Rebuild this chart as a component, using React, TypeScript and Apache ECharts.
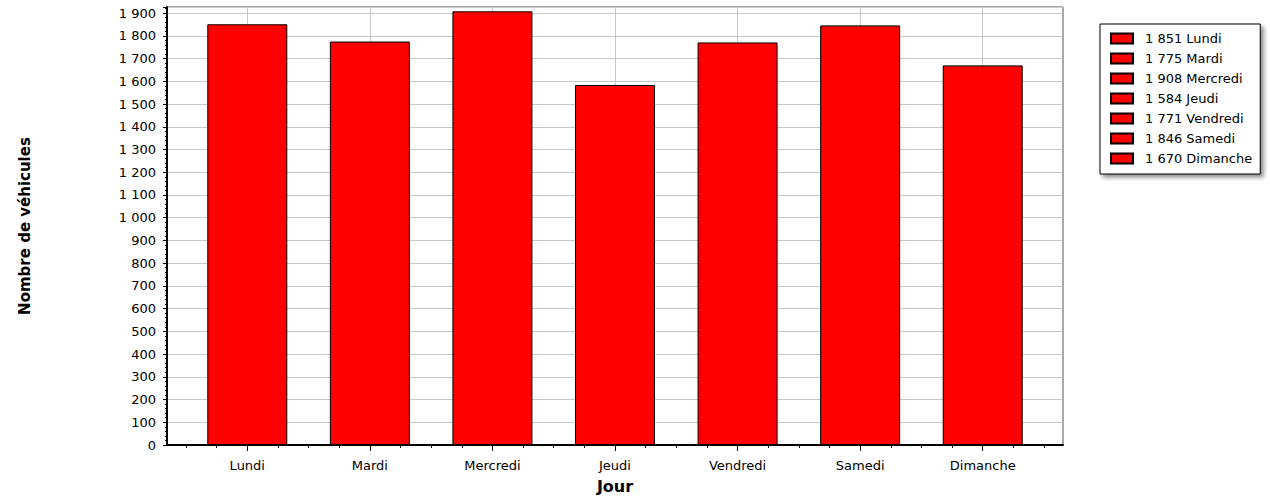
import React, { useEffect, useRef } from "react";
import * as echarts from "echarts";

const categories = ["Lundi", "Mardi", "Mercredi", "Jeudi", "Vendredi", "Samedi", "Dimanche"];
const values = [1851, 1775, 1908, 1584, 1771, 1846, 1670];
const yMax = 1927;
const yInterval = 100;

const fmt = (v: number) => {
  if (v >= 1000) return `${Math.floor(v / 1000)} ${String(v % 1000).padStart(3, "0")}`;
  return String(v);
};

export default function App() {
  const ref = useRef<HTMLDivElement>(null);
  useEffect(() => {
    document.body.style.margin = "0";
    const chart = echarts.init(ref.current!, null, { renderer: "svg" });
    const font = "DejaVu Sans, Verdana, sans-serif";
    const series = categories.map((c, i) => ({
      name: c,
      type: "bar",
      stack: "all",
      xAxisIndex: 1,
      yAxisIndex: 1,
      barWidth: 80,
      data: categories.map((_, j) => (j === i ? values[i] : "-")),
      itemStyle: { color: "#ff0000", borderColor: "#000", borderWidth: 1 },
      z: 3,
    }));
    chart.setOption({
      animation: false,
      backgroundColor: "#fff",
      grid: [
        {
          left: 167,
          right: 207,
          top: 7,
          bottom: 56,
          show: true,
          borderColor: "#555",
          borderWidth: 1,
          backgroundColor: "#fff",
        },
        { left: 186, right: 226, top: 7, bottom: 56 },
      ],
      legend: {
        orient: "vertical",
        left: 1100,
        top: 24,
        padding: [8, 8, 9, 10],
        itemWidth: 22,
        itemHeight: 10,
        itemGap: 7,
        icon: "rect",
        backgroundColor: "#fff",
        borderColor: "#000",
        borderWidth: 1,
        borderRadius: 0,
        shadowColor: "rgba(0,0,0,0.45)",
        shadowBlur: 4,
        shadowOffsetX: 3,
        shadowOffsetY: 3,
        data: categories,
        formatter: (name: string) => `${fmt(values[categories.indexOf(name)])} ${name}`,
        textStyle: { fontFamily: font, fontSize: 13, color: "#000", padding: [0, 0, 0, 7] },
      },
      xAxis: [
        {
          type: "value",
          gridIndex: 0,
          min: 0,
          max: 1,
          axisLine: { show: true, onZero: false, lineStyle: { color: "#000", width: 2 } },
          axisTick: { show: false },
          axisLabel: { show: false },
          splitLine: { show: false },
          name: "Jour",
          nameLocation: "middle",
          nameGap: 33,
          nameTextStyle: { fontFamily: font, fontSize: 16, fontWeight: "bold", color: "#000" },
        },
        {
          type: "category",
          gridIndex: 1,
          data: categories,
          axisLine: { show: false },
          axisTick: { show: true, alignWithLabel: true, length: 6, lineStyle: { color: "#000" } },
          axisLabel: { fontFamily: font, fontSize: 13, color: "#000", margin: 14 },
          splitLine: { show: false },
        },
        {
          type: "value",
          gridIndex: 1,
          position: "bottom",
          min: 0,
          max: 7,
          interval: 0.25,
          axisLine: { show: false, onZero: false },
          axisTick: { show: true, length: 3, lineStyle: { color: "#000" } },
          axisLabel: { show: false },
          splitLine: {
            show: true,
            lineStyle: { color: ["transparent", "transparent", "#c8c8c8", "transparent"], width: 1 },
          },
        },
      ],
      yAxis: [
        {
          type: "value",
          gridIndex: 0,
          min: 0,
          max: yMax,
          interval: yInterval,
          name: "Nombre de véhicules",
          nameLocation: "middle",
          nameGap: 135,
          nameRotate: 90,
          nameTextStyle: { fontFamily: font, fontSize: 15, fontWeight: "bold", color: "#000" },
          axisLine: { show: true, onZero: false, lineStyle: { color: "#000", width: 2 } },
          axisTick: { show: true, length: 4, lineStyle: { color: "#000" } },
          minorTick: { show: true, splitNumber: 5, length: 2, lineStyle: { color: "#000" } },
          axisLabel: {
            fontFamily: font,
            fontSize: 13,
            color: "#000",
            margin: 11,
            showMaxLabel: false,
            formatter: (v: number) => (v > 1900 ? "" : fmt(v)),
          },
          splitLine: { show: true, lineStyle: { color: "#c8c8c8", width: 1 } },
        },
        {
          type: "value",
          gridIndex: 1,
          min: 0,
          max: yMax,
          interval: yInterval,
          show: false,
          splitLine: { show: false },
        },
      ],
      series,
    });
    return () => chart.dispose();
  }, []);
  return (
    <div
      ref={ref}
      style={{ position: "fixed", left: 0, top: 0, width: 1270, height: 501 }}
    />
  );
}
